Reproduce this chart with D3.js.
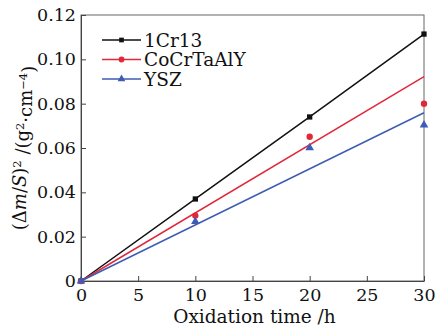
<!DOCTYPE html>
<html>
<head>
<meta charset="utf-8">
<script src="https://cdn.jsdelivr.net/npm/d3@7"></script>
<style>
  body { margin: 0; background: #fff; }
  text { font-family: "DejaVu Serif", "Liberation Serif", serif; fill: #111; }
</style>
</head>
<body>
<div id="chart"></div>
<script>
// oxidation time (h)
const times = [0, 10, 20, 30];
// measured (Δm/S)^2 values
const cr13 = [0, 0.037, 0.074, 0.1114];
const cocrtaaly = [0, 0.0295, 0.0651, 0.080];
const ysz = [0, 0.0268, 0.0601, 0.0704];
// fitted lines (endpoints at t = 0 and t = 30)
const fitTimes = [0, 30];
const cocrtaalyFit = [0, 0.0922];
const yszFit = [0, 0.0759];

const xTicks = [0, 5, 10, 15, 20, 25, 30];
const yTicks = [0, 0.02, 0.04, 0.06, 0.08, 0.10, 0.12];

const width = 445, height = 331;
const margin = { top: 15, right: 21, bottom: 50, left: 81 };

const svg = d3.select("#chart").append("svg")
  .attr("width", width)
  .attr("height", height);

const x = d3.scaleLinear().domain([0, 30]).range([margin.left, width - margin.right]);
const y = d3.scaleLinear().domain([0, 0.12]).range([height - margin.bottom, margin.top]);

const fmtY = (d) => (d === 0 ? "0" : d.toFixed(2));

// frame
svg.append("rect")
  .attr("x", x(0)).attr("y", y(0.12))
  .attr("width", x(30) - x(0)).attr("height", y(0) - y(0.12))
  .attr("fill", "none").attr("stroke", "#666").attr("stroke-width", 1);

const xAxis = svg.append("g")
  .attr("transform", `translate(0,${y(0)})`)
  .call(d3.axisBottom(x).tickValues(xTicks).tickSizeInner(-5).tickSizeOuter(0).tickPadding(8));
const yAxis = svg.append("g")
  .attr("transform", `translate(${x(0)},0)`)
  .call(d3.axisLeft(y).tickValues(yTicks).tickFormat(fmtY).tickSizeInner(-5).tickSizeOuter(0).tickPadding(5));

[xAxis, yAxis].forEach((a) => {
  a.select(".domain").attr("stroke", "#444");
  a.selectAll(".tick line").attr("stroke", "#444");
  a.selectAll(".tick text").style("font-size", "17.5px").attr("fill", "#111");
});

// series
const series = [
  { name: "1Cr13", color: "#111111", vals: cr13, lineX: times, lineY: cr13, shape: d3.symbolSquare, size: 28 },
  { name: "CoCrTaAlY", color: "#e0283a", vals: cocrtaaly, lineX: fitTimes, lineY: cocrtaalyFit, shape: d3.symbolCircle, size: 32 },
  { name: "YSZ", color: "#3d5cb4", vals: ysz, lineX: fitTimes, lineY: yszFit, shape: d3.symbolTriangle, size: 32 },
];

const line = d3.line().x((d) => x(d[0])).y((d) => y(d[1]));

series.forEach((s) => {
  svg.append("path")
    .attr("d", line(s.lineX.map((t, i) => [t, s.lineY[i]])))
    .attr("fill", "none")
    .attr("stroke", s.color)
    .attr("stroke-width", 1.5);

  svg.selectAll(null)
    .data(times.map((t, i) => [t, s.vals[i]]))
    .join("path")
    .attr("transform", (d) => `translate(${x(d[0])},${y(d[1])})`)
    .attr("d", d3.symbol().type(s.shape).size(s.size))
    .attr("fill", s.color);
});

// legend
const legend = svg.append("g").attr("transform", "translate(102,40)");
series.forEach((s, i) => {
  const g = legend.append("g").attr("transform", `translate(0,${i * 19.5})`);
  g.append("line").attr("x1", 0).attr("x2", 39).attr("stroke", s.color).attr("stroke-width", 1.5);
  g.append("path").attr("transform", "translate(19.5,0)")
    .attr("d", d3.symbol().type(s.shape).size(s.size - 6)).attr("fill", s.color);
  g.append("text").attr("x", 42).attr("dy", "0.36em")
    .style("font-size", "18.5px").text(s.name);
});

// axis titles
svg.append("text")
  .attr("x", (x(0) + x(30)) / 2 + 2).attr("y", 323)
  .attr("text-anchor", "middle").style("font-size", "18.5px")
  .text("Oxidation time /h");

const yt = svg.append("text")
  .attr("transform", `translate(26,${(y(0) + y(0.12)) / 2}) rotate(-90)`)
  .attr("text-anchor", "middle").style("font-size", "18px");
yt.append("tspan").text("(Δ");
yt.append("tspan").style("font-style", "italic").text("m");
yt.append("tspan").text("/");
yt.append("tspan").style("font-style", "italic").text("S");
yt.append("tspan").text(")");
yt.append("tspan").attr("dy", "-0.45em").style("font-size", "11.5px").text("2");
yt.append("tspan").attr("dy", "0.45em").text(" /(g");
yt.append("tspan").attr("dy", "-0.45em").style("font-size", "11.5px").text("2");
yt.append("tspan").attr("dy", "0.45em").text("·cm");
yt.append("tspan").attr("dy", "-0.45em").style("font-size", "11.5px").text("−4");
yt.append("tspan").attr("dy", "0.45em").text(")");
</script>
</body>
</html>
